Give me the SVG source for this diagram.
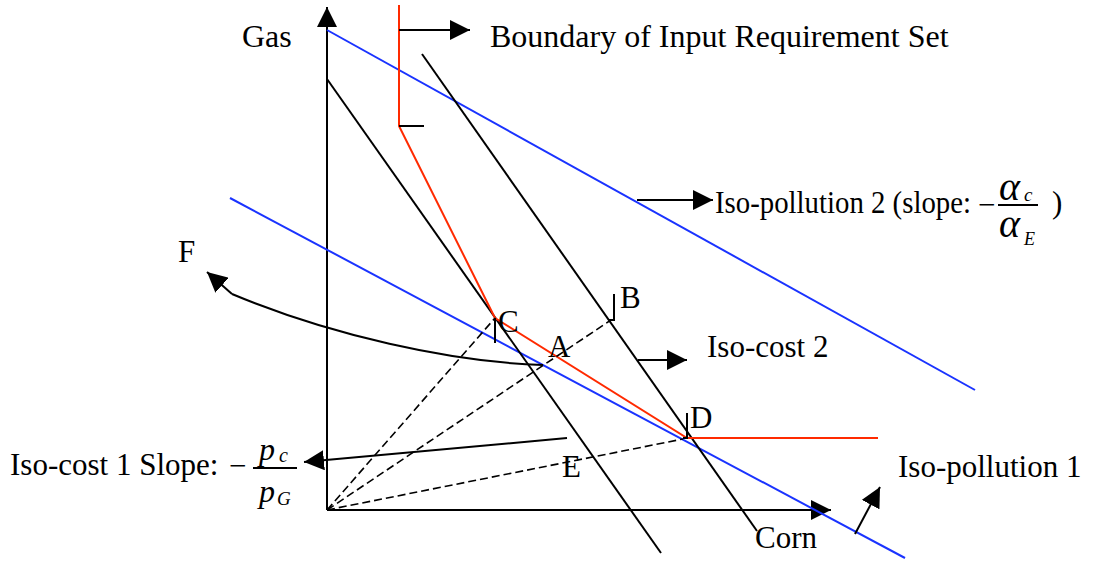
<svg xmlns="http://www.w3.org/2000/svg" width="1094" height="562" viewBox="0 0 1094 562">
<style>
.t{font-family:"Liberation Serif","Times New Roman",serif;font-size:31px;fill:#000}
.t32{font-size:32px}
.m{font-family:"Liberation Serif","Times New Roman",serif;font-style:italic;fill:#000}
.ln{stroke:#000;stroke-width:2;fill:none}
.bl{stroke:#1a33ff;stroke-width:2;fill:none}
.rd{stroke:#ff2a00;stroke-width:2;fill:none}
.ds{stroke:#000;stroke-width:1.6;fill:none;stroke-dasharray:8 4}
.ar{stroke:#000;stroke-width:2;fill:none;marker-end:url(#ah)}
</style>
<defs>
<marker id="ah" viewBox="0 0 20 20" refX="20" refY="10" markerWidth="20" markerHeight="20" markerUnits="userSpaceOnUse" orient="auto">
<path d="M0,0 L20,10 L0,20 z" fill="#000"/>
</marker>
</defs>
<rect width="1094" height="562" fill="#fff"/>
<g id="axes">
<line class="ar" x1="327" y1="510" x2="327" y2="7"/>
<line class="ar" x1="327" y1="510" x2="831" y2="510"/>
</g>
<g id="iso-pollution-2"><line class="bl" x1="327" y1="30" x2="975" y2="390"/></g>
<g id="iso-pollution-1"><line class="bl" x1="230" y1="198" x2="905" y2="558"/></g>
<g id="iso-cost-1"><line class="ln" x1="327" y1="79" x2="661" y2="553"/></g>
<g id="iso-cost-2"><line class="ln" x1="422" y1="54" x2="757" y2="531"/></g>
<g id="boundary">
<polyline class="rd" points="399,5 399,126 495,318 687,438 878,438"/>
<line class="ln" x1="399" y1="126" x2="424" y2="126"/>
</g>
<g id="rays">
<line class="ds" x1="327" y1="510" x2="495" y2="318"/>
<line class="ds" x1="327" y1="510" x2="611" y2="320"/>
<line class="ds" x1="327" y1="510" x2="683" y2="439"/>
</g>
<g id="ticks">
<line class="ln" x1="495" y1="318" x2="495" y2="343" stroke-width="1.6"/>
<polyline class="ln" points="609,320 614,320 614,294" stroke-width="1.6"/>
<polyline class="ln" points="683,438 687,438 687,413" stroke-width="1.6"/>
</g>
<g id="connectors">
<line class="ar" x1="399" y1="30" x2="470" y2="30"/>
<line class="ar" x1="637" y1="200" x2="713" y2="200"/>
<line class="ar" x1="638" y1="360" x2="687" y2="360"/>
<line class="ar" x1="567" y1="438" x2="304" y2="462"/>
<line class="ar" x1="855" y1="534" x2="880" y2="487"/>
<path class="ln" d="M543,365 C450,362 330,335 232,294"/>
<line class="ar" x1="232" y1="294" x2="207" y2="272"/>
</g>
<g id="labels">
<text class="t t32" x="242" y="47">Gas</text>
<text class="t t32" x="490" y="47">Boundary of Input Requirement Set</text>
<text class="t" x="715" y="213" textLength="256" lengthAdjust="spacingAndGlyphs">Iso-pollution 2 (slope:</text>
<text class="t" x="978" y="215">−</text>
<text class="m" x="999" y="200" font-size="40">α</text>
<text class="m" x="1024" y="201" font-size="19">c</text>
<line class="ln" x1="998" y1="205" x2="1038" y2="205" stroke-width="1.5"/>
<text class="m" x="999" y="237" font-size="40">α</text>
<text class="m" x="1024" y="245" font-size="18">E</text>
<text class="t" x="1052" y="213">)</text>
<text class="t" x="178" y="262">F</text>
<text class="t" x="498" y="332">C</text>
<text class="t" x="620" y="308">B</text>
<text class="t" x="548" y="357">A</text>
<text class="t" x="707" y="357">Iso-cost 2</text>
<text class="t" x="690" y="428">D</text>
<text class="t" x="562" y="477">E</text>
<text class="t" x="10" y="475">Iso-cost 1 Slope:</text>
<text class="t" x="229" y="476">−</text>
<text class="m" x="259" y="460" font-size="32">p</text>
<text class="m" x="279" y="462" font-size="20">c</text>
<line class="ln" x1="253" y1="468" x2="297" y2="468" stroke-width="1.5"/>
<text class="m" x="259" y="502" font-size="32">p</text>
<text class="m" x="277" y="505" font-size="19">G</text>
<text class="t" x="898" y="477">Iso-pollution 1</text>
<text class="t" x="755" y="548">Corn</text>
</g>
</svg>
